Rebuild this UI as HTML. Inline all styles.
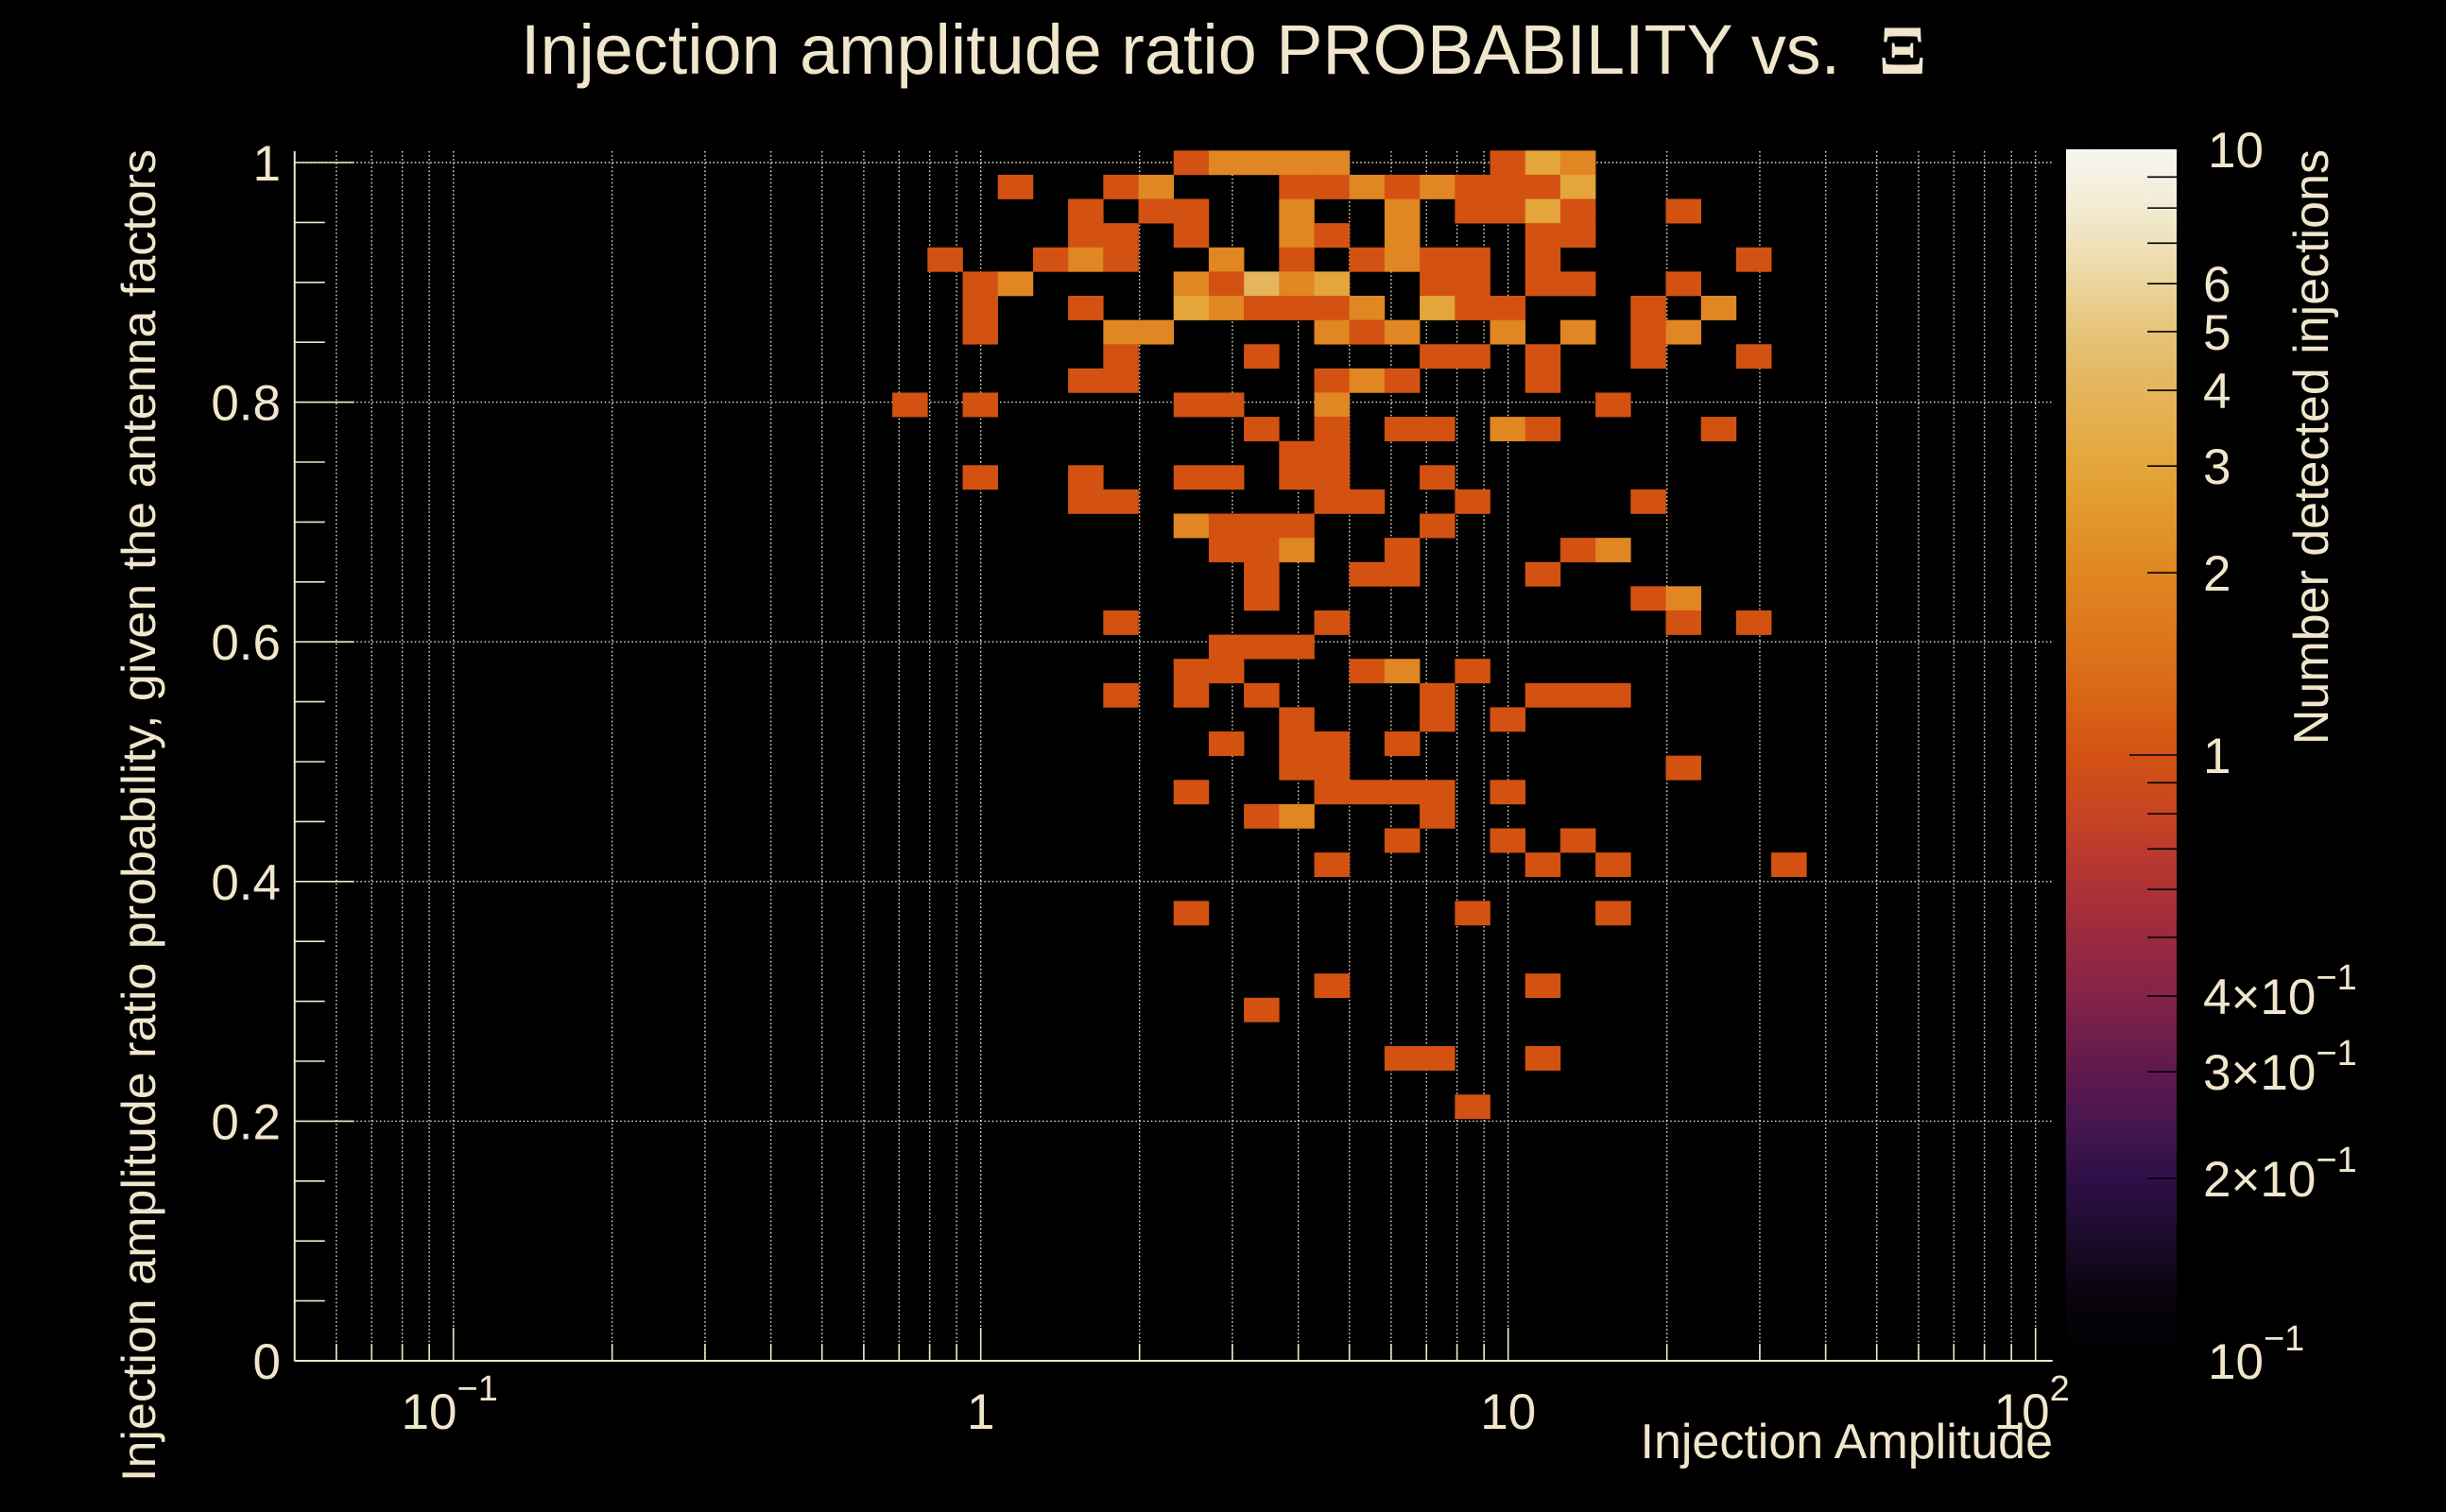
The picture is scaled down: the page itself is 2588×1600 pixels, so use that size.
<!DOCTYPE html>
<html><head><meta charset="utf-8"><title>Injection amplitude ratio probability</title>
<style>
html,body{margin:0;padding:0;background:#000;}
svg{display:block;}
text{font-family:"Liberation Sans",sans-serif;fill:#f0e6cc;}
</style></head>
<body>
<svg id="chart" width="2588" height="1600" viewBox="0 0 2588 1600" xmlns="http://www.w3.org/2000/svg">
<rect x="0" y="0" width="2588" height="1600" fill="#000"/>
<defs>
<linearGradient id="cbgrad" x1="0" y1="1" x2="0" y2="0"></linearGradient>
</defs>
<text x="551" y="78" font-size="74" textLength="1487" lengthAdjust="spacingAndGlyphs" xml:space="preserve">Injection amplitude ratio PROBABILITY vs.  <tspan font-family="Liberation Serif, serif" font-weight="bold">Ξ</tspan></text>
<g id="grid"></g>
<g id="cells"></g>
<g id="axes"></g>
<g id="colorbar"></g>
<text x="2172" y="1543" font-size="52" text-anchor="end">Injection Amplitude</text>
<text transform="translate(164,158) rotate(-90)" font-size="50" text-anchor="end" textLength="1410" lengthAdjust="spacingAndGlyphs">Injection amplitude ratio probability, given the antenna factors</text>
<text transform="translate(2463,158) rotate(-90)" font-size="52" text-anchor="end">Number detected injections</text>
</svg>
<script>
// ---- data (bin indices: x bin = 1/15 decade from 0.05, y bin = 0.0202 from 0) ----
const binX = [25,26,27,28,29,34,35,36, 20,23,24,28,29,30,31,32,33,34,35,36, 22,24,25,28,31,33,34,35,36,39, 22,23,25,28,29,31,35,36,
 18,21,22,23,26,28,30,31,32,33,35,41, 19,20,25,26,27,28,29,32,33,35,36,39, 19,22,25,26,27,28,29,30,32,33,34,38,40,
 19,23,24,29,30,31,34,36,38,39, 23,27,32,33,35,38,41, 22,23,29,30,31,35, 17,19,25,26,29,37, 27,29,31,32,34,35,40,
 28,29, 19,22,25,26,28,29,32, 22,23,29,30,33,38, 25,26,27,28,32, 26,27,28,31,36,37, 27,30,31,35, 27,38,39, 23,29,39,41,
 26,27,28, 25,26,30,31,33, 23,25,27,32,35,36,37, 28,32,34, 26,28,29,31, 28,29,39, 25,29,30,31,32,34, 27,28,32, 31,34,36,
 29,35,37,42, 25,33,37, 29,35, 27, 31,32,35, 33];
const binY = [49,49,49,49,49,49,49,49, 48,48,48,48,48,48,48,48,48,48,48,48, 47,47,47,47,47,47,47,47,47,47, 46,46,46,46,46,46,46,46,
 45,45,45,45,45,45,45,45,45,45,45,45, 44,44,44,44,44,44,44,44,44,44,44,44, 43,43,43,43,43,43,43,43,43,43,43,43,43,
 42,42,42,42,42,42,42,42,42,42, 41,41,41,41,41,41,41, 40,40,40,40,40,40, 39,39,39,39,39,39, 38,38,38,38,38,38,38,
 37,37, 36,36,36,36,36,36,36, 35,35,35,35,35,35, 34,34,34,34,34, 33,33,33,33,33,33, 32,32,32,32, 31,31,31, 30,30,30,30,
 29,29,29, 28,28,28,28,28, 27,27,27,27,27,27,27, 26,26,26, 25,25,25,25, 24,24,24, 23,23,23,23,23,23, 22,22,22, 21,21,21,
 20,20,20,20, 18,18,18, 15,15, 14, 12,12,12, 10];
const counts = [1,2,2,2,2,1,3,2, 1,1,2,1,1,2,1,2,1,1,1,3, 1,1,1,2,2,1,1,3,1,1, 1,1,1,2,1,2,1,1,
 1,1,2,1,2,1,1,2,1,1,1,1, 1,2,2,1,4,2,3,1,1,1,1,1, 1,1,3,2,1,1,1,2,3,1,1,1,2,
 1,2,2,2,1,2,2,2,1,2, 1,1,1,1,1,1,1, 1,1,1,2,1,1, 1,1,1,1,2,1, 1,1,1,1,2,1,1,
 1,1, 1,1,1,1,1,1,1, 1,1,1,1,1,1, 2,1,1,1,1, 1,1,2,1,1,2, 1,1,1,1, 1,1,2, 1,1,1,1,
 1,1,1, 1,1,1,2,1, 1,1,1,1,1,1,1, 1,1,1, 1,1,1,1, 1,1,1, 1,1,1,1,1,1, 1,2,1, 1,1,1,
 1,1,1,1, 1,1,1, 1,1, 1, 1,1,1, 1];
const yTickValues = [0,0.2,0.4,0.6,0.8,1];
const yTickLabels = ["0","0.2","0.4","0.6","0.8","1"];
const xDecades = [-1,0,1,2];
const cbLabelValues = [10,6,5,4,3,2,1,0.4,0.3,0.2,0.1];

// ---- axis functions ----
const X_LOGMIN = Math.log10(0.05), X_BINW = 1/15, N_XBINS = 50;
const Y_BINW = 1.01/50;
const X_ONE = 1037.7, DECADE = 558;
const PLOT_L = X_ONE + DECADE*X_LOGMIN, PLOT_R = X_ONE + DECADE*(X_LOGMIN + N_XBINS*X_BINW);
const Y_ZERO = 1440, Y_UNIT = 1268, PLOT_T = 160;
function xLog(l){ return X_ONE + DECADE*l; }
function xScale(v){ return xLog(Math.log10(v)); }
function yScale(v){ return Y_ZERO - Y_UNIT*v; }
const CB_L = 2186, CB_R = 2303, CB_T = 158, CB_B = 1440;
function cbScale(v){ return CB_B - (Math.log10(v)+1)/2*(CB_B-CB_T); }

const pal = [[0,"#000000"],[0.05,"#08030c"],[0.1,"#1c0a2a"],[0.15,"#2e0f47"],[0.2,"#4a1650"],[0.26,"#6a1c4b"],[0.3,"#832346"],[0.35,"#9a2a3f"],[0.4,"#b23433"],[0.45,"#c64424"],[0.5,"#d35211"],[0.57,"#db6e18"],[0.65,"#e08622"],[0.74,"#e4a63a"],[0.8,"#e4b55a"],[0.85,"#e6c47a"],[0.9,"#ecd9a6"],[0.95,"#f2ead2"],[1,"#f7f5f0"]];
function hex2rgb(h){return [parseInt(h.substr(1,2),16),parseInt(h.substr(3,2),16),parseInt(h.substr(5,2),16)];}
function colorFor(c){
  let t = (Math.log10(c)+1)/2; t=Math.max(0,Math.min(1,t));
  for(let i=0;i<pal.length-1;i++){
    if(t<=pal[i+1][0]){
      const f=(t-pal[i][0])/(pal[i+1][0]-pal[i][0]);
      const a=hex2rgb(pal[i][1]), b=hex2rgb(pal[i+1][1]);
      return "rgb("+a.map((v,k)=>Math.round(v+(b[k]-v)*f)).join(",")+")";
    }
  }
  return pal[pal.length-1][1];
}

const NS="http://www.w3.org/2000/svg";
function mk(tag, attrs, parent){ const e=document.createElementNS(NS,tag); for(const k in attrs) e.setAttribute(k,attrs[k]); parent.appendChild(e); return e; }
const gGrid=document.getElementById('grid'), gCells=document.getElementById('cells'), gAxes=document.getElementById('axes'), gCb=document.getElementById('colorbar');
const GRIDC="#f0e6cc";

for(let d=-2; d<=2; d++){
  for(let m=1;m<=9;m++){
    const v=m*Math.pow(10,d); const x=xScale(v);
    if(x<PLOT_L+1||x>PLOT_R) continue;
    const ln=mk('line',{x1:x,y1:PLOT_T,x2:x,y2:Y_ZERO,stroke:GRIDC,'stroke-width':1.4,'stroke-dasharray':'1.5 2.6'},gGrid);
    
    
    const tk=mk('line',{x1:x,y1:Y_ZERO,x2:x,y2:Y_ZERO-(m===1?35:18),stroke:GRIDC,'stroke-width':1.6},gAxes);
    
    
  }
}
yTickValues.forEach(v=>{
  if(v===0) return;
  const y=yScale(v);
  const ln=mk('line',{x1:PLOT_L,y1:y,x2:PLOT_R,y2:y,stroke:GRIDC,'stroke-width':1.4,'stroke-dasharray':'1.5 2.6'},gGrid);
  
  
});

for(let i=0;i<counts.length;i++){
  const x0=xLog(X_LOGMIN+binX[i]*X_BINW), x1=xLog(X_LOGMIN+(binX[i]+1)*X_BINW);
  const y0=yScale((binY[i]+1)*Y_BINW), y1=yScale(binY[i]*Y_BINW);
  const r=mk('rect',{x:x0,y:y0,width:x1-x0+0.3,height:y1-y0+0.3,fill:colorFor(counts[i])},gCells);
  
  
}

let ax=mk('line',{x1:PLOT_L,y1:PLOT_T,x2:PLOT_L,y2:Y_ZERO,stroke:GRIDC,'stroke-width':2},gAxes);


ax=mk('line',{x1:PLOT_L,y1:Y_ZERO,x2:PLOT_R,y2:Y_ZERO,stroke:GRIDC,'stroke-width':2},gAxes);


for(let k=0;k<=20;k++){
  const v=k*0.05, y=yScale(v);
  const t=mk('line',{x1:PLOT_L,y1:y,x2:PLOT_L+(k%4===0?63:32),y2:y,stroke:GRIDC,'stroke-width':1.6},gAxes);
  
  
}
yTickValues.forEach((v,i)=>{
  const t=mk('text',{x:297,y:yScale(v)+19,'font-size':53,'text-anchor':'end'},gAxes);
  t.textContent=yTickLabels[i];
  
  
});
xDecades.forEach(d=>{
  const x=xScale(Math.pow(10,d));
  const t=mk('text',{x:x,y:1512,'font-size':53,'text-anchor':'middle'},gAxes);
  
  
  if(d===0){t.textContent="1";}
  else if(d===1){t.textContent="10";}
  else{
    t.setAttribute('x', x-4);
    const a=mk('tspan',{},t); a.textContent="10";
    const b=mk('tspan',{dy:-30,'font-size':38},t); b.textContent=(d<0?"\u2212":"")+Math.abs(d);
  }
});

const grad=document.getElementById('cbgrad');
for(let i=0;i<=40;i++){
  const t=i/40; mk('stop',{offset:t,'stop-color':colorFor(Math.pow(10,t*2-1))},grad);
}
const cbr=mk('rect',{x:CB_L,y:CB_T,width:CB_R-CB_L,height:CB_B-CB_T,fill:'url(#cbgrad)'},gCb);


for(let d=-1; d<=0; d++){
  for(let m=1;m<=9;m++){
    const v=m*Math.pow(10,d); if(v<=0.1) continue;
    const y=cbScale(v);
    const t=mk('line',{x1:CB_R-(m===1?50:31),y1:y,x2:CB_R,y2:y,stroke:'#000','stroke-width':1.6},gCb);
    
    
  }
}
cbLabelValues.forEach(v=>{
  const y=cbScale(v)+19;
  const t=mk('text',{x:2331,y:y,'font-size':53},gCb);
  
  
  if(v>=1){ t.textContent=String(v); if(v===10) t.setAttribute('x',2336); }
  else if(v===0.1){
    t.setAttribute('x',2336);
    const a=mk('tspan',{},t); a.textContent="10";
    const b=mk('tspan',{dy:-30,'font-size':38},t); b.textContent="\u22121";
  } else {
    const a=mk('tspan',{},t); a.textContent=Math.round(v*10)+"\u00d710";
    const b=mk('tspan',{dy:-26,'font-size':38},t); b.textContent="\u22121";
  }
});
</script>
</body></html>
